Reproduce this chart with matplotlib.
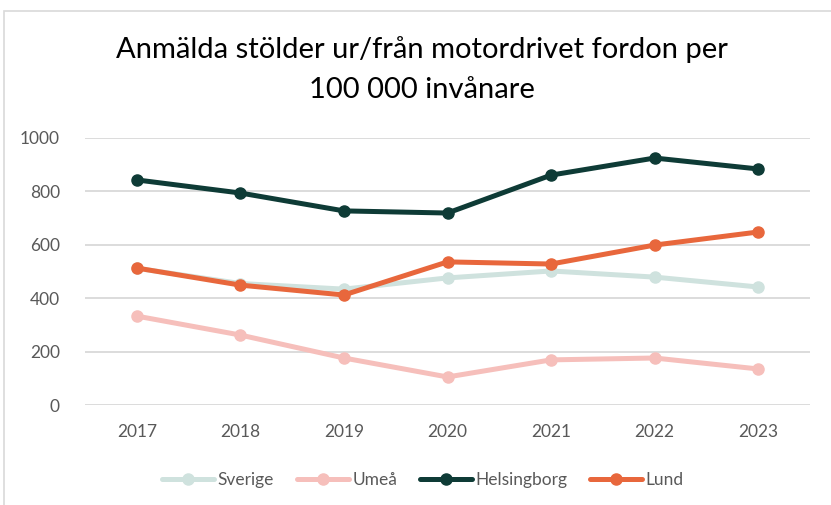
import matplotlib
matplotlib.use("Agg")
import matplotlib.pyplot as plt
from matplotlib.patches import Rectangle

# Data
years = [2017, 2018, 2019, 2020, 2021, 2022, 2023]
sverige = [512, 455, 434, 476, 502, 479, 442]
umea = [333, 262, 176, 105, 169, 176, 135]
helsingborg = [843, 794, 727, 719, 861, 925, 884]
lund = [513, 449, 412, 536, 528, 599, 648]

series = [
    ("Sverige", sverige, "#cfe2de"),
    ("Umeå", umea, "#f6bfbb"),
    ("Helsingborg", helsingborg, "#0e3b36"),
    ("Lund", lund, "#e8673c"),
]

plt.rcParams['font.family'] = ['Lato', 'DejaVu Sans']

fig = plt.figure(figsize=(8.31, 5.05), dpi=100)
# outer chart border
fig.patches.append(Rectangle((4 / 831, -0.05), 1.1, 1 - 11 / 505 + 0.05,
                             transform=fig.transFigure, fill=False,
                             edgecolor="#d9d9d9", linewidth=1.2))

ax = fig.add_axes([85 / 831, 1 - 405 / 505, 725 / 831, 267 / 505])

for name, vals, col in series:
    ax.plot(years, vals, color=col, linewidth=3.6, marker="o", markersize=8,
            label=name, solid_capstyle="round")

ax.set_xlim(2016.5, 2023.5)
ax.set_ylim(0, 1000)
ax.set_yticks(range(0, 1001, 200))
ax.set_xticks(years)
ax.grid(axis="y", color="#d9d9d9", linewidth=1.3)
ax.set_axisbelow(True)
for s in ax.spines.values():
    s.set_visible(False)
ax.tick_params(length=0, labelsize=12.5, labelcolor="#595959")
ax.tick_params(axis="x", pad=14)
ax.tick_params(axis="y", pad=18)

fig.text(0.508, 1 - 50 / 505, "Anmälda stölder ur/från motordrivet fordon per",
         ha="center", va="center", fontsize=21, color="#000000")
fig.text(0.508, 1 - 90 / 505, "100 000 invånare",
         ha="center", va="center", fontsize=21, color="#000000")

leg = ax.legend(loc="center", bbox_to_anchor=(0.466, -0.28), ncol=4,
                frameon=False, fontsize=12.5, handlelength=3.0,
                handletextpad=0.2, columnspacing=1.3)
for t in leg.get_texts():
    t.set_color("#595959")

fig.savefig("out.png", dpi=100)
